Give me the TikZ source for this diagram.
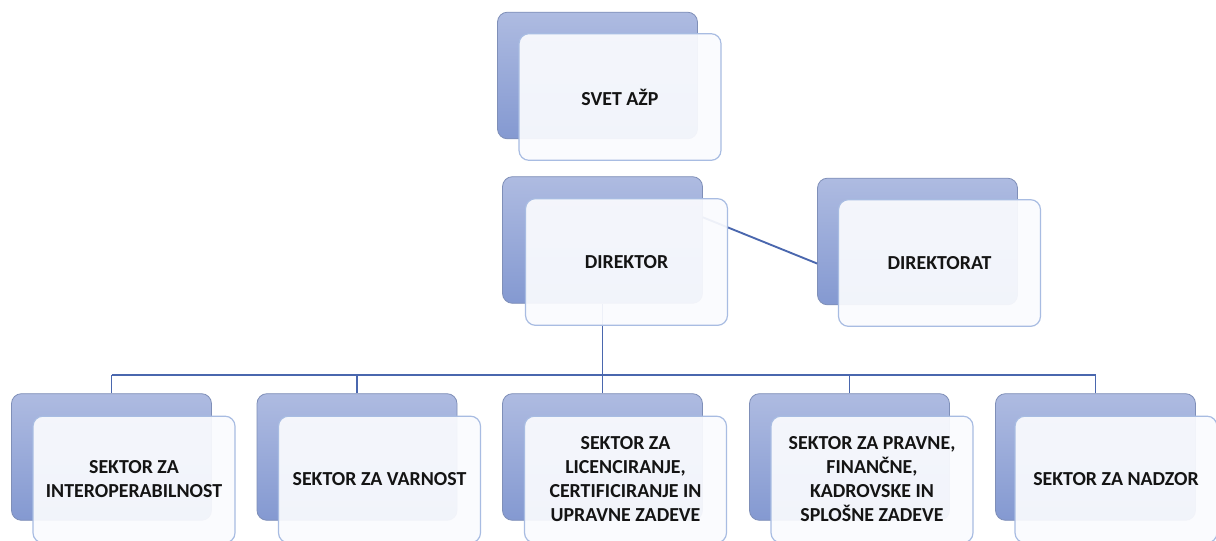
\documentclass[tikz,border=0pt]{standalone}
\usepackage{fontspec}
\setmainfont{Carlito}
\begin{document}
\begin{tikzpicture}[x=0.75pt,y=-0.75pt,
  backbox/.style={draw=backedge, line width=0.6pt, rounded corners=7.5pt,
    top color=backtop, bottom color=backbot, minimum width=150pt, minimum height=95pt, inner sep=0pt},
  frontbox/.style={draw=frontedge, line width=0.9pt, rounded corners=7.5pt,
    fill=frontfill, fill opacity=0.93, text opacity=1, minimum width=151.5pt, minimum height=95pt,
    inner sep=0pt, align=center, font=\fontsize{14.9}{18}\selectfont\bfseries, text=textcol},
  conn/.style={draw=linecol, line width=1.4pt}]
\definecolor{backtop}{HTML}{AEBBE1}
\definecolor{backbot}{HTML}{8499D1}
\definecolor{backedge}{HTML}{7F8FB8}
\definecolor{frontedge}{HTML}{A8BCE2}
\definecolor{frontfill}{HTML}{FAFBFE}
\definecolor{linecol}{HTML}{4A67AE}
\definecolor{textcol}{HTML}{141414}
\useasboundingbox (0,0) rectangle (1216,540);
\fill[white] (0,0) rectangle (1216,540);
\clip (0,0) rectangle (1216,540);
% back boxes
\node[backbox] (svb) at (597.5,75.5) {};
\node[backbox] (dib) at (602.5,240) {};
\node[backbox] (dtb) at (917.5,241.5) {};
\node[backbox] (s1b) at (111.5,457) {};
\node[backbox] (s2b) at (357,457) {};
\node[backbox] (s3b) at (602.5,457) {};
\node[backbox] (s4b) at (849.5,457) {};
\node[backbox] (s5b) at (1095.5,457) {};
% connectors
\coordinate (hl) at (111.5,375);
\coordinate (hr) at (1095.5,375);
\coordinate (hm) at (602.5,375);
\draw[conn] (dib.south) -- (hm);
\draw[conn] (hl) -- (hr);
\draw[conn] (s1b.north) -- (hl);
\draw[conn] (s2b.north) -- (s2b.north |- hl);
\draw[conn] (s3b.north) -- (hm);
\draw[conn] (s4b.north) -- (s4b.north |- hl);
\draw[conn] (s5b.north) -- (hr);
\draw[conn] ([yshift=17pt]dib.east) -- ([yshift=-16.5pt]dtb.west);
% front boxes
\node[frontbox] (svf) at (620,97) {SVET AŽP};
\node[frontbox] (dif) at (626.5,262) {DIREKTOR};
\node[frontbox] (dtf) at (939.5,263) {DIREKTORAT};
\node[frontbox] (s1f) at (134,479.5) {SEKTOR ZA\\INTEROPERABILNOST};
\node[frontbox] (s2f) at (379.5,479.5) {SEKTOR ZA VARNOST};
\node[frontbox] (s3f) at (625.5,479.5) {SEKTOR ZA\\LICENCIRANJE,\\CERTIFICIRANJE IN\\UPRAVNE ZADEVE};
\node[frontbox] (s4f) at (872,479.5) {SEKTOR ZA PRAVNE,\\FINANČNE,\\KADROVSKE IN\\SPLOŠNE ZADEVE};
\node[frontbox] (s5f) at (1116,479.5) {SEKTOR ZA NADZOR};
\end{tikzpicture}
\end{document}
